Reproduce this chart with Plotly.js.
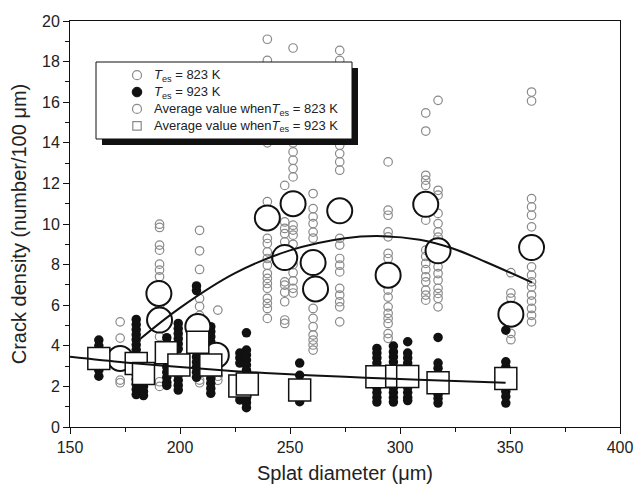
<!DOCTYPE html>
<html><head><meta charset="utf-8">
<script src="https://cdn.plot.ly/plotly-3.0.1.min.js"></script>
<style>html,body{margin:0;padding:0;background:#fff}#chart{width:634px;height:491px}</style>
</head><body><div id="chart"></div>
<script>
// 823 K individual measurements: column x positions and their crack-density values
const cols823X = [172.8, 190.7, 208.9, 217.2, 239.7, 247.6, 251.4, 260.5, 272.6, 294.6, 311.7, 317.3, 350.4, 359.8];
const cols823Y = [
  [5.18, 4.38, 3.6, 3.2, 2.31, 2.18],
  [9.99, 9.83, 8.96, 8.71, 8.02, 7.73, 7.4, 6.9, 6.2, 5.9, 5.0, 4.45, 2.23, 2.0],
  [9.69, 8.68, 7.76, 6.33, 5.94, 5.5, 4.5, 2.64, 2.31, 2.18],
  [5.76, 2.5, 2.3],
  [19.1, 18.06, 14.0, 11.1, 9.29, 9.04, 8.63, 8.3, 7.97, 7.56, 7.32, 7.07, 6.83, 6.34, 6.09, 5.84, 5.35],
  [11.9, 10.1, 9.78, 9.53, 9.12, 7.15, 6.99, 6.64, 6.17, 5.27, 5.1],
  [18.67, 14.0, 13.55, 13.14, 12.73, 12.32, 9.94, 9.7, 9.45, 9.0, 8.0, 7.6, 7.2, 6.83, 6.6],
  [11.5, 10.76, 10.35, 10.02, 9.6, 9.3, 5.84, 5.35, 4.94, 4.53, 4.28, 4.04, 3.79],
  [18.55, 18.06, 13.88, 13.47, 13.06, 12.65, 9.29, 8.96, 8.3, 7.97, 7.64, 6.83, 6.5, 6.17, 5.92, 5.18],
  [13.06, 10.68, 10.43, 9.61, 9.37, 8.55, 8.3, 6.74, 6.4, 5.92, 5.6, 5.35, 5.1, 4.6, 4.37],
  [15.47, 14.58, 12.4, 12.16, 11.9, 10.19, 8.71, 8.4, 8.06, 7.75, 7.4, 7.15, 6.74, 6.5, 6.25],
  [16.09, 11.66, 11.42, 10.52, 10.02, 9.61, 9.35, 7.89, 7.56, 7.23, 6.83, 6.58, 6.34, 5.92],
  [7.6, 6.6, 6.35, 4.61, 4.3],
  [16.5, 16.06, 11.25, 10.84, 10.43, 9.86, 7.89, 7.48, 7.15, 6.9, 6.5, 6.2, 5.84, 5.5, 5.18]
];

// 923 K individual measurements
const cols923X = [163.1, 180.1, 183.4, 194.0, 199.2, 207.5, 214.0, 227.2, 230.2, 254.4, 289.5, 297.0, 303.5, 317.3, 348.1];
const cols923Y = [
  [4.28, 4.0, 3.7, 3.4, 3.1, 2.8, 2.5],
  [5.3, 5.05, 4.8, 4.55, 4.3, 4.05, 3.8, 3.5, 3.2, 2.9, 2.6, 2.35, 2.1, 1.85, 1.6],
  [2.6, 2.3, 2.0, 1.75, 1.55],
  [4.4, 4.15, 3.2, 2.95, 2.7, 2.45, 2.2, 2.05],
  [5.1, 4.85, 4.6, 4.35, 4.1, 3.85, 2.8, 2.55, 2.3, 2.05, 1.82],
  [6.95, 6.72, 3.95, 3.7, 3.45, 3.2, 2.95, 2.7, 2.45],
  [4.94, 4.7, 4.45, 4.2, 3.95, 3.7, 2.4, 2.15, 1.9, 1.66],
  [3.64, 3.4, 3.15, 1.8, 1.55, 1.33],
  [4.64, 3.79, 3.55, 3.3, 3.05, 2.8, 1.6, 1.4, 1.2, 0.95],
  [3.15, 2.55, 1.25],
  [3.87, 3.64, 3.4, 3.15, 2.9, 1.95, 1.7, 1.45, 1.23],
  [3.99, 3.7, 3.45, 3.2, 1.95, 1.7, 1.45, 1.23],
  [4.2, 3.64, 3.4, 3.15, 2.9, 1.95, 1.7, 1.45, 1.3],
  [4.41, 3.15, 2.9, 1.85, 1.6, 1.4, 1.18],
  [4.77, 3.21, 2.95, 1.75, 1.5, 1.18]
];

// Average values
const avg823X = [172.8, 190.4, 190.7, 208.1, 216.5, 239.7, 251.4, 247.6, 260.5, 261.6, 272.6, 294.6, 311.7, 317.3, 350.4, 359.8];
const avg823Y = [3.38, 6.58, 5.27, 4.95, 3.54, 10.3, 11.0, 8.35, 8.1, 6.8, 10.65, 7.48, 10.97, 8.68, 5.56, 8.84];
const avg923X = [163.1, 180.1, 183.4, 193.8, 199.5, 208.1, 214.0, 227.2, 230.6, 254.4, 289.5, 298.5, 303.5, 317.3, 348.1];
const avg923Y = [3.38, 3.13, 2.64, 3.66, 3.05, 4.17, 3.05, 2.02, 2.12, 1.82, 2.48, 2.5, 2.49, 2.18, 2.39];

// Fitted trend curves
const fit823X = [182, 200, 225, 250, 275, 292, 309, 324, 339, 360];
const fit823Y = [4.35, 5.87, 7.58, 8.7, 9.3, 9.4, 9.22, 8.79, 8.13, 7.12];
const fit923X = [150, 175, 200, 225, 250, 275, 300, 325, 348];
const fit923Y = [3.46, 3.18, 2.95, 2.75, 2.6, 2.47, 2.36, 2.26, 2.18];

const legendNames = [
  '<i>T</i><sub>es</sub> = 823 K',
  '<i>T</i><sub>es</sub> = 923 K',
  'Average value when<i>T</i><sub>es</sub> = 823 K',
  'Average value when<i>T</i><sub>es</sub> = 923 K'
];
const xTitle = 'Splat diameter (μm)';
const yTitle = 'Crack density (number/100 μm)';

function flatten(xs, ys) {
  const X = [], Y = [];
  xs.forEach((x, i) => ys[i].forEach(y => { X.push(x); Y.push(y); }));
  return {X, Y};
}
const p823 = flatten(cols823X, cols823Y);
const p923 = flatten(cols923X, cols923Y);

const FONT = 'Arial, "Liberation Sans", Helvetica, sans-serif';
const GRAY = '#8a8a8a';
const INK = '#111';

const traces = [
  {type: 'scatter', mode: 'markers', x: p823.X, y: p823.Y, name: legendNames[0],
   marker: {symbol: 'circle-open', size: 8.5, color: GRAY, line: {width: 1.2}}},
  {type: 'scatter', mode: 'markers', x: p923.X, y: p923.Y, name: legendNames[1],
   marker: {symbol: 'circle', size: 9.5, color: INK}},
  {type: 'scatter', mode: 'markers', x: avg823X, y: avg823Y, name: legendNames[2],
   marker: {symbol: 'circle', size: 25, color: 'white', line: {color: INK, width: 2}}},
  {type: 'scatter', mode: 'markers', x: avg923X, y: avg923Y, name: legendNames[3],
   marker: {symbol: 'square', size: 22, color: 'white', line: {color: INK, width: 1.5}}},
  {type: 'scatter', mode: 'lines', x: fit823X, y: fit823Y, name: 'fit 823 K',
   line: {color: INK, width: 2, shape: 'spline', smoothing: 1}},
  {type: 'scatter', mode: 'lines', x: fit923X, y: fit923Y, name: 'fit 923 K',
   line: {color: INK, width: 2, shape: 'spline', smoothing: 1}}
];

// ---- framed legend with drop shadow (page-pixel layout converted to paper units)
const M = {l: 70, r: 14, t: 21, b: 64};
const W = 634, H = 491;
const PW = W - M.l - M.r, PH = H - M.t - M.b;
const px = v => (v - M.l) / PW;
const py = v => (H - M.b - v) / PH;

const LEG_FONT = 13;
const LEG = {left: 96, top: 62, right: 352, bottom: 139, shadow: 6,
             symX: 137, textX: 153, centerY: 100.5, lineGap: 1.3 * LEG_FONT};
const rowY = i => LEG.centerY + (i - 1.5) * LEG.lineGap;

const shapes = [
  {type: 'rect', xref: 'paper', yref: 'paper', layer: 'above',
   x0: px(LEG.left + LEG.shadow), x1: px(LEG.right + LEG.shadow),
   y0: py(LEG.bottom + LEG.shadow), y1: py(LEG.top + LEG.shadow),
   fillcolor: INK, line: {width: 0}},
  {type: 'rect', xref: 'paper', yref: 'paper', layer: 'above',
   x0: px(LEG.left), x1: px(LEG.right), y0: py(LEG.bottom), y1: py(LEG.top),
   fillcolor: 'white', line: {color: INK, width: 1}}
];
const symbolStyles = [
  {type: 'circle', r: 4.5, fill: 'white', line: GRAY, w: 1.2},
  {type: 'circle', r: 4.8, fill: INK, line: INK, w: 1},
  {type: 'circle', r: 4.5, fill: 'white', line: GRAY, w: 1.2},
  {type: 'rect', r: 4.2, fill: 'white', line: GRAY, w: 1.2}
];
symbolStyles.forEach((s, i) => {
  shapes.push({type: s.type, xref: 'paper', yref: 'paper', layer: 'above',
    xsizemode: 'pixel', ysizemode: 'pixel',
    xanchor: px(LEG.symX), yanchor: py(rowY(i)),
    x0: -s.r, x1: s.r, y0: -s.r, y1: s.r,
    fillcolor: s.fill, line: {color: s.line, width: s.w}});
});
const annotations = [{
  text: legendNames.join('<br>'), xref: 'paper', yref: 'paper', showarrow: false,
  x: px(LEG.textX), y: py(LEG.centerY), xanchor: 'left', yanchor: 'middle', align: 'left',
  borderpad: 0, font: {family: FONT, size: LEG_FONT, color: '#222'}
}];

const axisCommon = {
  showline: true, linecolor: INK, linewidth: 1, mirror: true,
  showgrid: false, zeroline: false,
  ticks: 'outside', ticklen: 6, tickwidth: 1, tickcolor: INK,
  tickfont: {family: FONT, size: 16, color: '#222'}
};

const layout = {
  width: W, height: H,
  margin: M,
  paper_bgcolor: 'white', plot_bgcolor: 'white',
  font: {family: FONT, color: '#222'},
  showlegend: false,
  xaxis: Object.assign({}, axisCommon, {
    range: [150, 400], tick0: 150, dtick: 50,
    minor: {dtick: 25, ticks: 'outside', ticklen: 4, tickcolor: INK},
    title: {text: xTitle, font: {family: FONT, size: 20, color: '#222'}, standoff: 10}
  }),
  yaxis: Object.assign({}, axisCommon, {
    range: [0, 20], tick0: 0, dtick: 2,
    minor: {dtick: 1, ticks: 'outside', ticklen: 4, tickcolor: INK},
    title: {text: yTitle, font: {family: FONT, size: 20, color: '#222'}, standoff: 10}
  }),
  shapes: shapes,
  annotations: annotations
};

Plotly.newPlot('chart', traces, layout, {staticPlot: true});
</script></body></html>
